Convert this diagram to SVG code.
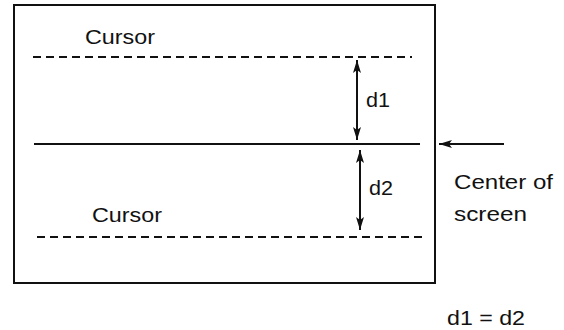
<svg xmlns="http://www.w3.org/2000/svg" width="564" height="330" viewBox="0 0 564 330">
<style>
.t{font-family:"Liberation Sans",Arial,sans-serif;font-size:20px;fill:#111}
.ln{stroke:#111;stroke-width:2;fill:none}
.dash{stroke:#111;stroke-width:2;stroke-dasharray:8 5;fill:none}
</style>
<defs>
<marker id="ah" markerWidth="14" markerHeight="10" refX="13" refY="5" orient="auto-start-reverse" markerUnits="userSpaceOnUse">
<path d="M0,1 L13,5 L0,9 L3,5 Z" fill="#111"/>
</marker>
</defs>
<rect width="564" height="330" fill="#fff"/>
<g id="screen">
<rect x="14" y="5" width="421" height="278" class="ln"/>
</g>
<g id="cursor-top">
<line x1="33" y1="57" x2="412" y2="57" class="dash"/>
<text x="85" y="44" class="t" textLength="70" lengthAdjust="spacingAndGlyphs">Cursor</text>
</g>
<g id="center-line">
<line x1="34" y1="144" x2="420" y2="144" class="ln"/>
</g>
<g id="cursor-bottom">
<line x1="37" y1="237" x2="424" y2="237" class="dash"/>
<text x="92" y="222" class="t" textLength="70" lengthAdjust="spacingAndGlyphs">Cursor</text>
</g>
<g id="connectors">
<line x1="357" y1="60" x2="357" y2="140" class="ln" stroke-width="1.6" marker-start="url(#ah)" marker-end="url(#ah)"/>
<line x1="360" y1="150" x2="360" y2="230" class="ln" stroke-width="1.6" marker-start="url(#ah)" marker-end="url(#ah)"/>
<line x1="504" y1="144" x2="439" y2="144" class="ln" stroke-width="1.6" marker-end="url(#ah)"/>
</g>
<g id="labels">
<text x="366" y="107" class="t" textLength="24" lengthAdjust="spacingAndGlyphs">d1</text>
<text x="369" y="195" class="t" textLength="24" lengthAdjust="spacingAndGlyphs">d2</text>
<text x="454" y="189" class="t" textLength="99" lengthAdjust="spacingAndGlyphs">Center of</text>
<text x="454" y="221" class="t" textLength="73" lengthAdjust="spacingAndGlyphs">screen</text>
<text x="447" y="325" class="t" textLength="78" lengthAdjust="spacingAndGlyphs">d1 = d2</text>
</g>
</svg>
